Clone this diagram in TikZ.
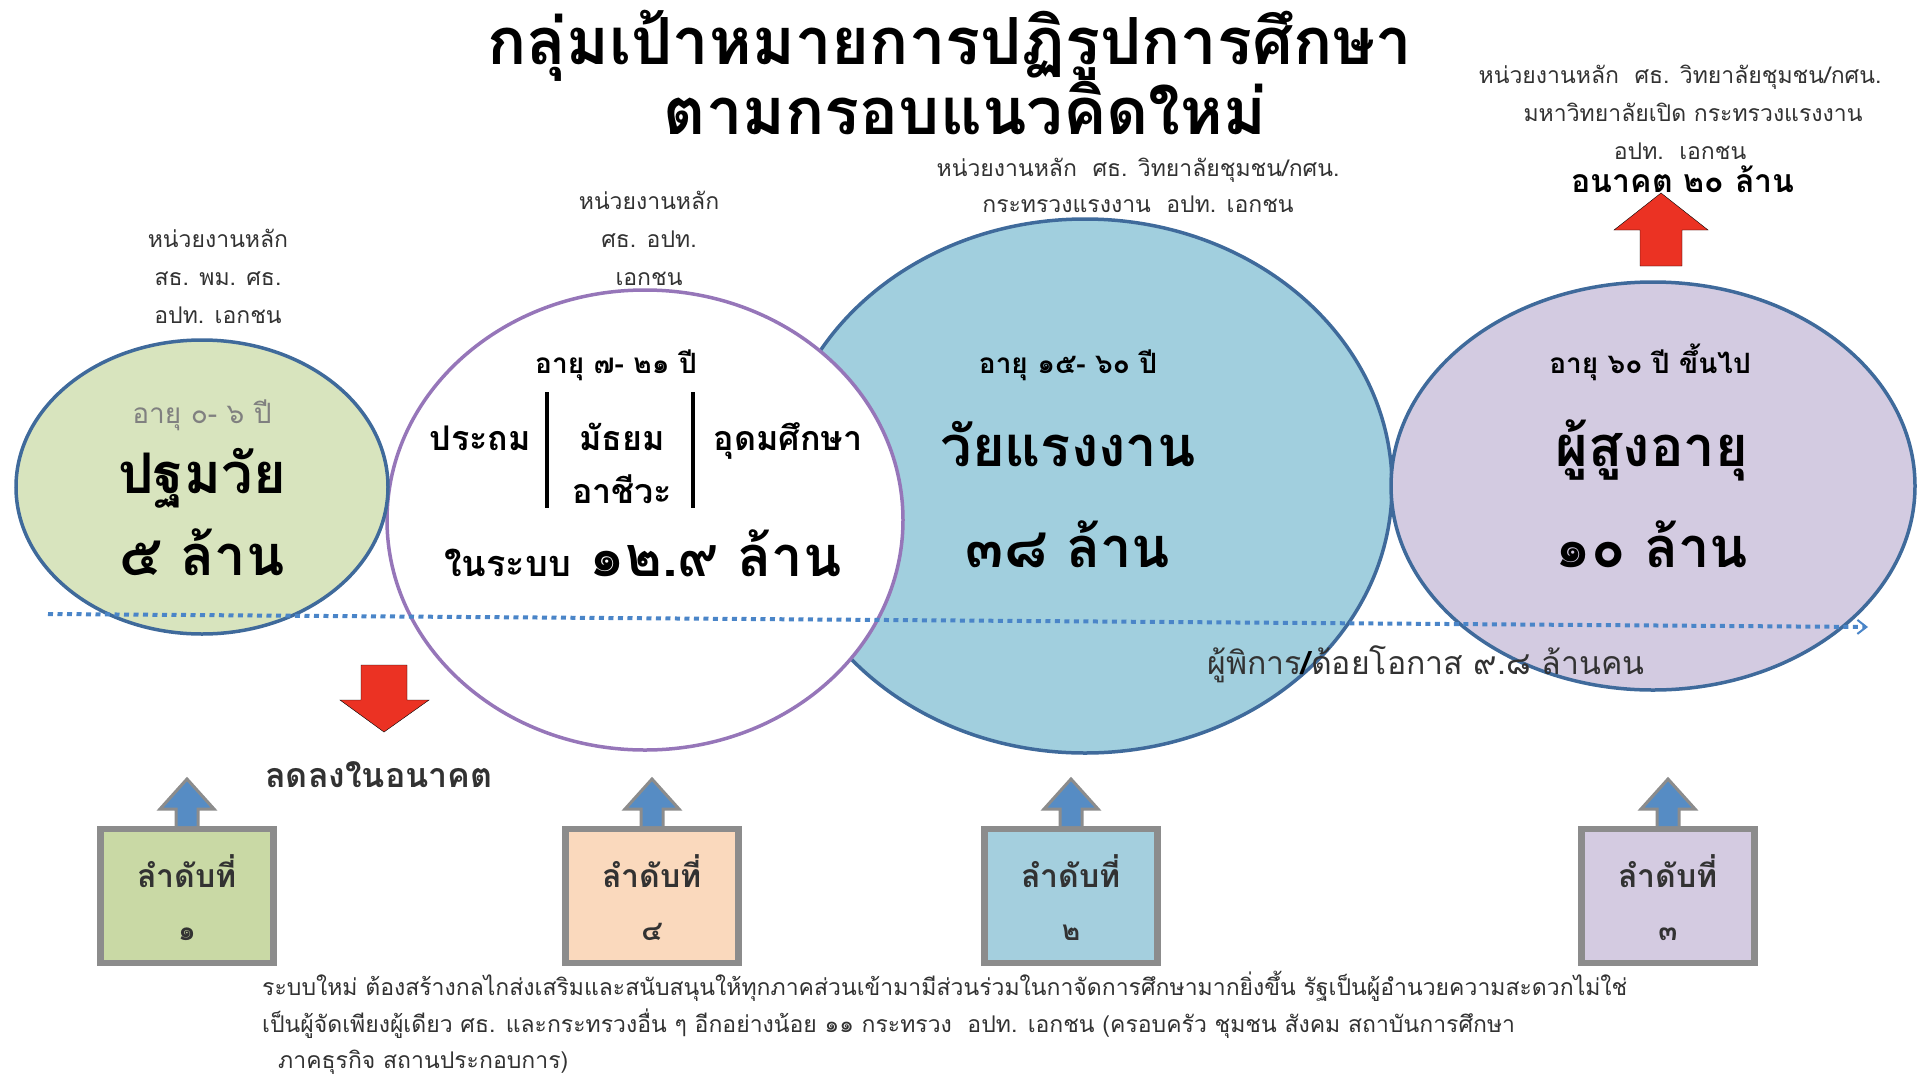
\documentclass[tikz,border=0pt]{standalone}
\usepackage{fontspec}
\setmainfont[Script=Thai]{Loma}
\usetikzlibrary{shapes.geometric,arrows.meta}

\definecolor{rimblue}{RGB}{63,106,155}
\definecolor{edpurple}{RGB}{150,118,185}
\definecolor{kidgreen}{RGB}{216,228,190}
\definecolor{workblue}{RGB}{161,207,222}
\definecolor{oldlilac}{RGB}{211,203,225}
\definecolor{rankgreen}{RGB}{201,217,165}
\definecolor{rankpeach}{RGB}{250,217,189}
\definecolor{rankblue}{RGB}{164,207,222}
\definecolor{ranklilac}{RGB}{212,203,225}
\definecolor{boxgray}{RGB}{140,140,140}
\definecolor{arrowblue}{RGB}{86,140,196}
\definecolor{alertred}{RGB}{235,50,35}
\definecolor{dotblue}{RGB}{74,133,200}
\definecolor{textgray}{RGB}{50,50,50}

\newcommand{\fsz}[1]{\fontsize{#1}{#1}\selectfont}

\tikzset{
  agecircle/.style={ellipse, line width=3.5pt, inner sep=0pt},
  rankbox/.style={draw=boxgray, line width=6.5pt, minimum width=173pt, minimum height=134pt, inner sep=0pt},
  uparrow/.style={fill=arrowblue, draw=boxgray, line width=3pt, line join=miter},
  redarrow/.style={fill=alertred},
  agency/.style={anchor=base, inner sep=1pt, text=textgray, font=\fsz{23}},
  bigtext/.style={anchor=base, inner sep=1pt, font=\fsz{56}\bfseries},
  agetext/.style={anchor=base, inner sep=1pt, font=\fsz{28}\bfseries},
  ranktext/.style={anchor=base, inner sep=1pt, font=\fsz{32}\bfseries, text=textgray},
  notetext/.style={anchor=base west, inner sep=1pt, font=\fsz{23}, text=textgray}
}

\begin{document}
\begin{tikzpicture}[x=1pt,y=-1pt]
\useasboundingbox (0,0) rectangle (1919,1079);

% title
\node[anchor=base, inner sep=0pt, font=\fsz{65}\bfseries] (title1) at (950,64) {กลุ่มเป้าหมายการปฏิรูปการศึกษา};
\node[anchor=base, inner sep=0pt, font=\fsz{65}\bfseries] (title2) at (965,134) {ตามกรอบแนวคิดใหม่};

% the four age groups
\node[agecircle, draw=rimblue, fill=workblue, minimum width=614pt, minimum height=534pt] (work) at (1085,486) {};
\node[agecircle, draw=edpurple, fill=white, minimum width=516pt, minimum height=460pt] (school) at (645,520) {};
\node[agecircle, draw=rimblue, fill=kidgreen, minimum width=372pt, minimum height=294pt] (kid) at (202,487) {};
\node[agecircle, draw=rimblue, fill=oldlilac, minimum width=524pt, minimum height=408pt] (old) at (1653,486) {};

% time line
\coordinate (lineA) at (48,614);
\coordinate (lineB) at (1868,627);
\draw[dotblue, line width=4pt, dash pattern=on 5pt off 4.5pt, -{Straight Barb[length=9pt,width=14pt,line width=2pt]}] (lineA) -- (lineB);

% agencies above the circles
\node[agency] (kidag1) at (218,247) {หน่วยงานหลัก};
\node[agency] (kidag2) at (218,285) {สธ. พม. ศธ.};
\node[agency] (kidag3) at (218,323) {อปท. เอกชน};
\node[agency] (schag1) at (649,209) {หน่วยงานหลัก};
\node[agency] (schag2) at (649,247) {ศธ. อปท.};
\node[agency] (schag3) at (649,285) {เอกชน};
\node[agency] (wrkag1) at (1138,176) {หน่วยงานหลัก\ \ ศธ. วิทยาลัยชุมชน/กศน.};
\node[agency] (wrkag2) at (1138,212) {กระทรวงแรงงาน\ \ อปท. เอกชน};
\node[agency] (oldag1) at (1680,83) {หน่วยงานหลัก\ \ ศธ. วิทยาลัยชุมชน/กศน.};
\node[agency] (oldag2) at (1693,121) {มหาวิทยาลัยเปิด กระทรวงแรงงาน};
\node[agency] (oldag3) at (1680,159) {อปท.\ \ เอกชน};
\node[anchor=base, inner sep=1pt, font=\fsz{32}\bfseries] (future) at (1683,192) {อนาคต ๒๐ ล้าน};

% red arrows
\draw[redarrow] (1640,266) -- (1640,230) -- (1614,230) -- (1661,193) -- (1708,230) -- (1682,230) -- (1682,266) -- cycle;
\draw[redarrow] (361,665) -- (361,700) -- (340,700) -- (384,732) -- (429,700) -- (407,700) -- (407,665) -- cycle;

% texts in the circles
\node[agetext, font=\fsz{28}, text=gray] (kidage) at (202,423) {อายุ ๐- ๖ ปี};
\node[bigtext] (kidname) at (202,493) {ปฐมวัย};
\node[bigtext] (kidnum) at (202,575) {๕ ล้าน};

\node[agetext] (schage) at (616,373) {อายุ ๗- ๒๑ ปี};
\node[anchor=base, inner sep=1pt, font=\fsz{34}\bfseries] (primary) at (480,450) {ประถม};
\node[anchor=base, inner sep=1pt, font=\fsz{34}\bfseries] (second) at (622,450) {มัธยม};
\node[anchor=base, inner sep=1pt, font=\fsz{34}\bfseries] (vocat) at (622,503) {อาชีวะ};
\node[anchor=base, inner sep=1pt, font=\fsz{34}\bfseries] (higher) at (788,450) {อุดมศึกษา};
\draw[line width=4pt] (547,392) -- (547,508);
\draw[line width=4pt] (693,392) -- (693,508);
\node[anchor=base, inner sep=1pt, font=\fsz{56}\bfseries] (schnum) at (643,576) {{\fsz{36}ในระบบ} ๑๒.๙ ล้าน};

\node[agetext] (wrkage) at (1068,373) {อายุ ๑๕- ๖๐ ปี};
\node[bigtext] (wrkname) at (1068,466) {วัยแรงงาน};
\node[bigtext] (wrknum) at (1068,567) {๓๘ ล้าน};

\node[agetext] (oldage) at (1650,373) {อายุ ๖๐ ปี ขึ้นไป};
\node[bigtext] (oldname) at (1652,466) {ผู้สูงอายุ};
\node[bigtext] (oldnum) at (1652,567) {๑๐ ล้าน};

\node[anchor=base, inner sep=1pt, font=\fsz{32}, text=textgray] (disabled) at (1426,674) {ผู้พิการ{\bfseries\color{black}/}ด้อยโอกาส ๙.๘ ล้านคน};
\node[anchor=base, inner sep=1pt, font=\fsz{34}\bfseries, text=textgray] (decline) at (379,787) {ลดลงในอนาคต};

% ranking boxes
\node[rankbox, fill=rankgreen] (rank1) at (187,896) {};
\node[rankbox, fill=rankpeach] (rank4) at (652,896) {};
\node[rankbox, fill=rankblue] (rank2) at (1071,896) {};
\node[rankbox, fill=ranklilac] (rank3) at (1668,896) {};

\draw[uparrow, shift={(187,0)}] (-11,826) -- (-11,809) -- (-27,809) -- (0,779) -- (27,809) -- (11,809) -- (11,826);
\draw[uparrow, shift={(652,0)}] (-11,826) -- (-11,809) -- (-27,809) -- (0,779) -- (27,809) -- (11,809) -- (11,826);
\draw[uparrow, shift={(1071,0)}] (-11,826) -- (-11,809) -- (-27,809) -- (0,779) -- (27,809) -- (11,809) -- (11,826);
\draw[uparrow, shift={(1668,0)}] (-11,826) -- (-11,809) -- (-27,809) -- (0,779) -- (27,809) -- (11,809) -- (11,826);

\node[ranktext] (r1a) at (187,887) {ลำดับที่};
\node[ranktext, font=\fsz{28}\bfseries] (r1b) at (187,940) {๑};
\node[ranktext] (r4a) at (652,887) {ลำดับที่};
\node[ranktext, font=\fsz{28}\bfseries] (r4b) at (652,940) {๔};
\node[ranktext] (r2a) at (1071,887) {ลำดับที่};
\node[ranktext, font=\fsz{28}\bfseries] (r2b) at (1071,940) {๒};
\node[ranktext] (r3a) at (1668,887) {ลำดับที่};
\node[ranktext, font=\fsz{28}\bfseries] (r3b) at (1668,940) {๓};

% note at the bottom
\node[notetext] (note1) at (261,995) {ระบบใหม่ ต้องสร้างกลไกส่งเสริมและสนับสนุนให้ทุกภาคส่วนเข้ามามีส่วนร่วมในกาจัดการศึกษามากยิ่งขึ้น รัฐเป็นผู้อำนวยความสะดวกไม่ใช่};
\node[notetext] (note2) at (261,1032) {เป็นผู้จัดเพียงผู้เดียว ศธ. และกระทรวงอื่น ๆ อีกอย่างน้อย ๑๑ กระทรวง\ \ อปท. เอกชน (ครอบครัว ชุมชน สังคม สถาบันการศึกษา};
\node[notetext] (note3) at (277,1068) {ภาคธุรกิจ สถานประกอบการ)};
\end{tikzpicture}
\end{document}
